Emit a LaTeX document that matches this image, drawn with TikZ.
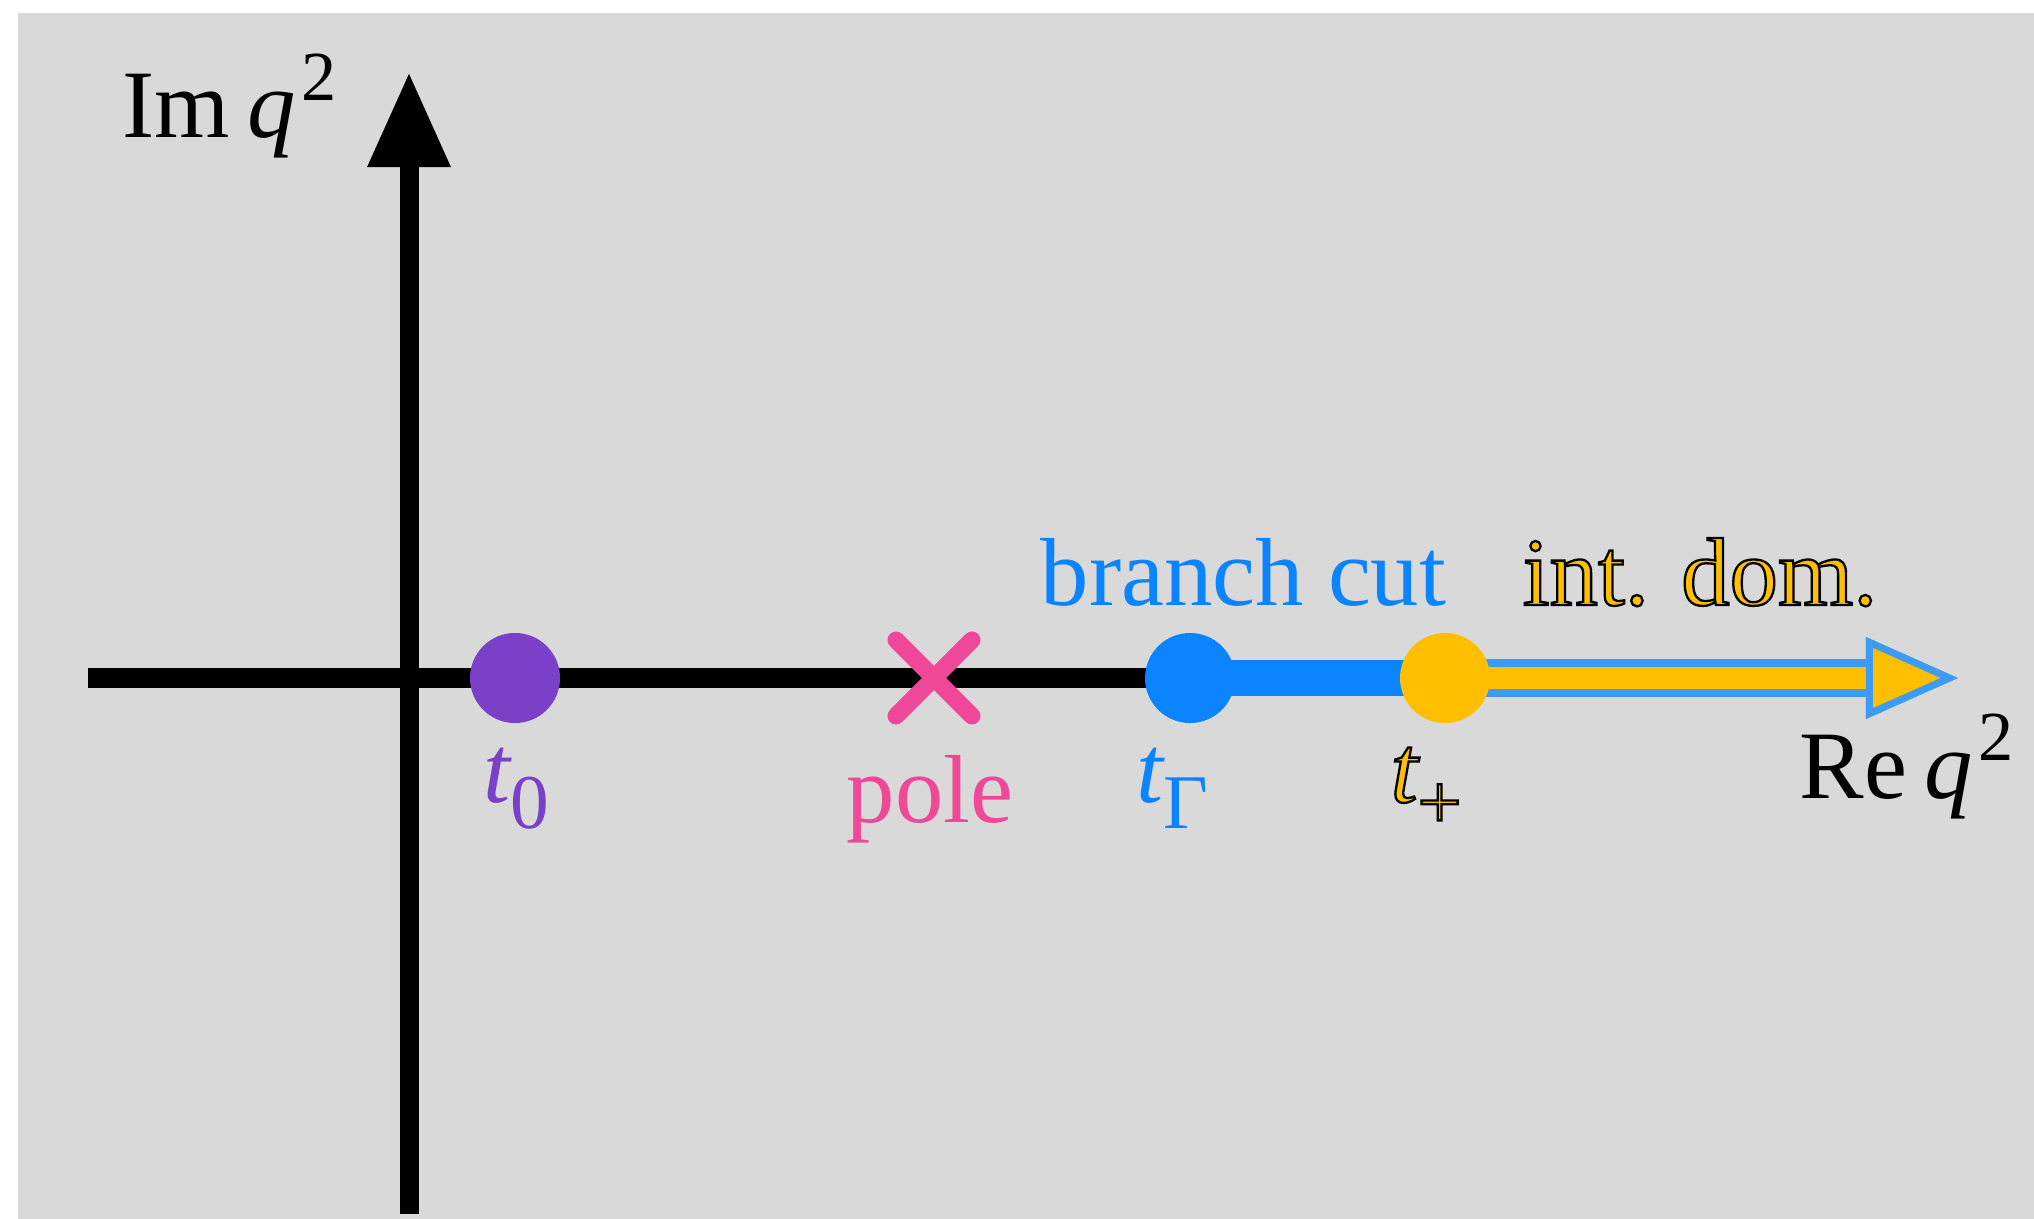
\documentclass[tikz,border=0pt]{standalone}
\usepackage{fontspec}
\setmainfont{Liberation Serif}
\usetikzlibrary{arrows.meta,shapes.misc}

\definecolor{panel}{RGB}{217,217,217}
\definecolor{zeropt}{RGB}{122,64,200}
\definecolor{polepink}{RGB}{239,72,153}
\definecolor{cutblue}{RGB}{10,132,255}
\definecolor{edgeblue}{RGB}{60,155,245}
\definecolor{domyellow}{RGB}{255,190,0}

\pgfdeclarelayer{panel layer}
\pgfdeclarelayer{line layer}
\pgfsetlayers{panel layer,line layer,main}

% label sizes
\newcommand{\mainsize}{\fontsize{27.5}{30}\selectfont}
\newcommand{\subsize}{\fontsize{22}{23}\selectfont}
\newcommand{\supsize}{\fontsize{20}{22}\selectfont}
\newcommand{\var}[1]{\textit{#1}}
\newcommand{\lowidx}[1]{\kern-0.5pt\raisebox{-7.4pt}{\subsize #1}}
\newcommand{\highidx}[1]{\kern1.5pt\raisebox{10.8pt}{\supsize #1}}
% filled glyphs with a thin black outline (PDF text render mode 2)
\newcommand{\strokedtext}[1]{\special{pdf:literal direct 2 Tr 0 G 0.65 w}#1\special{pdf:literal direct 0 Tr}}

\tikzset{
  axis/.style={line width=0.19cm, black},
  dot/.style={circle, draw=none, minimum size=0.9cm, inner sep=0pt},
  polemark/.style={cross out, draw=polepink, line width=0.17cm, line cap=round,
                   minimum size=0.76cm, inner sep=0pt, outer sep=0pt},
  cutline/.style={line width=0.35cm, cutblue},
  domedge/.style={line width=0.37cm, edgeblue,
     -{Triangle[length=0.92cm,width=0.80cm,line width=0.07cm,color=edgeblue,fill=edgeblue]}},
  domcore/.style={line width=0.22cm, domyellow,
     -{Triangle[length=0.92cm,width=0.80cm,line width=0.07cm,color=edgeblue,fill=domyellow]}},
  lbl/.style={inner sep=0pt, font=\mainsize},
}

\begin{document}
\begin{tikzpicture}[x=0.01cm,y=-0.01cm]
\useasboundingbox (0,0) rectangle (2034,1219);
\begin{pgfonlayer}{panel layer}
  \fill[white] (0,0) rectangle (2034,1219);
  \fill[panel] (18,13) rectangle (2034,1219);
\end{pgfonlayer}

% axis end points
\coordinate (xstart) at (88,678);
\coordinate (xtip) at (1958,678);
\coordinate (ybottom) at (409,1214);
\coordinate (ytop) at (409,72);

% points on the real axis
\node[dot, fill=zeropt] (t0) at (515,678) {};
\node[polemark] (pole) at (934,678) {};
\node[dot, fill=cutblue] (tG) at (1190,678) {};
\node[dot, fill=domyellow] (tp) at (1445,678) {};

\begin{pgfonlayer}{line layer}
  \draw[axis, -{Triangle[length=0.95cm,width=0.78cm]}] (ybottom) -- (ytop);
  \draw[axis] (xstart) -- (tG.center);
  \draw[cutline] (tG.center) -- (tp.center);
  \draw[domedge] (tp.center) -- (xtip);
  \draw[domcore] (tp.center) -- (xtip);
\end{pgfonlayer}

% labels
\node[lbl, anchor=base west] (imlab) at (122,138) {Im\hspace{5pt}\var{q}\highidx{2}};
\node[lbl, anchor=base west] (relab) at (1799,798) {Re\hspace{5pt}\var{q}\highidx{2}};
\node[lbl, text=zeropt, anchor=base west] (t0lab) at (483,802) {\var{t}\lowidx{0}};
\node[lbl, text=polepink, anchor=base] (polelab) at (930,822) {pole};
\node[lbl, text=cutblue, anchor=base west] (tGlab) at (1136,802) {\var{t}\lowidx{Γ}};
\node[lbl, text=cutblue, anchor=base west] (cutlab) at (1040,605) {branch cut};
\node[lbl, text=domyellow, anchor=base west] (tplab) at (1390,802) {\strokedtext{\var{t}\lowidx{+}}};
\node[lbl, text=domyellow, anchor=base west] (domlab) at (1522,605) {\strokedtext{int. dom.}};
\end{tikzpicture}
\end{document}
